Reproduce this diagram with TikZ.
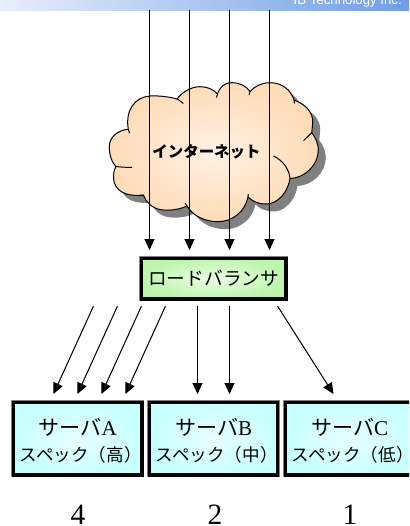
\documentclass[tikz,border=0pt]{standalone}
\usepackage{fontspec}
\setmainfont{Liberation Serif}
\newfontfamily\cjk{Noto Sans CJK JP}
\newfontfamily\arialfont{Liberation Sans}
\usetikzlibrary{arrows.meta}

\newcommand{\cloudoutline}{(128.3,129.3)
 .. controls (125,110) and (135,97) .. (150,96) .. controls (160,95.5) and (170,97) .. (177,99)
 .. controls (183,91) and (192,86.7) .. (200,86.7) .. controls (207,86.7) and (213,89) .. (217.5,94)
 .. controls (220,87) and (224,82.7) .. (232,82.7) .. controls (240,82.7) and (246,86) .. (250,91.5)
 .. controls (255,86) and (262,82.7) .. (270,82.7) .. controls (282,82.7) and (291,90) .. (294,100)
 .. controls (305,104) and (313,112) .. (312.7,122) .. controls (312.5,126) and (312,130) .. (311.7,132.7)
 .. controls (316,138) and (318.3,144) .. (318.3,150) .. controls (318.3,165) and (305,178) .. (290,178.5)
 .. controls (288,192) and (278,204) .. (266,204) .. controls (258,204) and (252,201) .. (248,197)
 .. controls (245,212) and (232,221.7) .. (218,221.7) .. controls (205,221.7) and (193,216) .. (187,206)
 .. controls (178,210) and (168,211) .. (160,209.5) .. controls (152,208) and (146,202) .. (143.3,195)
 .. controls (128,197) and (114,192) .. (113.5,178) .. controls (113.5,173) and (114,170) .. (116,166.5)
 .. controls (112,163) and (109.3,155) .. (109.3,146.7) .. controls (109.3,137) and (118,130) .. (128.3,129.3) -- cycle}

\newcommand{\srvname}[1]{{\fontsize{15pt}{19.2pt}\selectfont{\cjk サーバ}#1}}
\newcommand{\srvspec}[1]{{\hspace*{1.5mm}\fontsize{12.5pt}{19.2pt}\selectfont\cjk スペック（#1）}}

\definecolor{cloudout}{HTML}{FFDCB8}
\definecolor{cloudin}{HTML}{FFF1E4}
\definecolor{lbout}{HTML}{BDF5AD}
\definecolor{lbin}{HTML}{EBFFE6}
\definecolor{srvout}{HTML}{C8FFFF}
\definecolor{srvin}{HTML}{E8FFFF}
\definecolor{bannerleft}{HTML}{E8EEFA}
\definecolor{bannerright}{HTML}{6F9DE6}

\tikzset{
  flow/.style={line width=.25mm,-{Triangle[length=2.75mm,width=2.5mm]}},
  srvbox/.style={draw=black,line width=.85mm,inner sep=0pt,minimum width=32mm,minimum height=18.1mm,
    shade,inner color=srvin,outer color=srvout,preaction={draw=gray,line width=1.2mm}},
  srvtext/.style={inner sep=0pt,align=center,yshift=-.5mm,font=\fontsize{13pt}{19.2pt}\selectfont},
  lbbox/.style={draw=black,line width=.85mm,inner sep=0pt,minimum width=36.1mm,minimum height=10.1mm,
    shade,inner color=lbin,outer color=lbout,font=\fontsize{13.3pt}{16pt}\selectfont\cjk,
    preaction={draw=gray,line width=1.2mm}},
  weight/.style={inner sep=0pt,font=\fontsize{21pt}{24pt}\selectfont},
}

\begin{document}
\begin{tikzpicture}[x=.25mm,y=-.25mm]

\useasboundingbox (0,0) rectangle (409,526);
\clip (0,0) rectangle (409,526);

\shade[left color=bannerleft,right color=bannerright] (0,0) rectangle (409,10.5);
\node[anchor=base east,inner sep=0pt,text=white,font=\fontsize{9.4pt}{11pt}\arialfont] (company) at (402,4.5) {IB Technology Inc.};

\fill[gray,shift={(7.5,7.5)}] \cloudoutline;
\shade[draw=black,line width=.25mm,inner color=cloudin,outer color=cloudout] \cloudoutline;
\draw[line width=.25mm] (177,99) .. controls (179,100) and (181,101.5) .. (183.3,103.5);
\draw[line width=.25mm] (217.5,94) -- (216.5,97.5);
\draw[line width=.25mm] (250,91.5) -- (249,95);
\draw[line width=.25mm] (294,100) -- (294.5,103.5);
\draw[line width=.25mm] (311.7,132.7) -- (303.5,140.7);
\draw[line width=.25mm] (290,178.5) .. controls (289,168) and (282,160) .. (273.5,156);
\draw[line width=.25mm] (248,197) -- (248.3,194);
\draw[line width=.25mm] (187,206) -- (185,203);
\draw[line width=.25mm] (143.3,195) -- (137,195);
\draw[line width=.25mm] (116,166.5) .. controls (120,167) and (126,167.5) .. (132,167.3);
\draw[line width=.25mm] (128.3,129.3) -- (129.5,133);

\node[font=\fontsize{11pt}{13pt}\selectfont\cjk\bfseries] (inet) at (206.5,152) {インターネット};

\node[lbbox] (lb) at (213.7,278.7) {ロードバランサ};

\node[srvbox] (srvA) at (77.8,438.7) {};
\node[srvbox] (srvB) at (213.7,438.7) {};
\node[srvbox] (srvC) at (349.7,438.7) {};

\node[srvtext] (textA) at (srvA) {\srvname{A}\\\srvspec{高}};
\node[srvtext] (textB) at (srvB) {\srvname{B}\\\srvspec{中}};
\node[srvtext] (textC) at (srvC) {\srvname{C}\\\srvspec{低}};

\node[weight] (wA) at (78,515) {4};
\node[weight] (wB) at (215,515) {2};
\node[weight] (wC) at (350,515) {1};

\foreach \x [count=\i] in {149.5,189.5,229.5,269.5} {
  \coordinate (top\i) at (\x,10);
  \coordinate (in\i) at (\x,250);
  \draw[flow] (top\i) -- (in\i);
}

\foreach \xa/\xb [count=\i] in {93.5/53.5,117.5/77.5,141.5/101.5,165.5/125.5,197.5/197.5,229.5/229.5,277.5/333.5} {
  \coordinate (out\i) at (\xa,306);
  \coordinate (srv\i) at (\xb,394);
  \draw[flow] (out\i) -- (srv\i);
}

\end{tikzpicture}
\end{document}
